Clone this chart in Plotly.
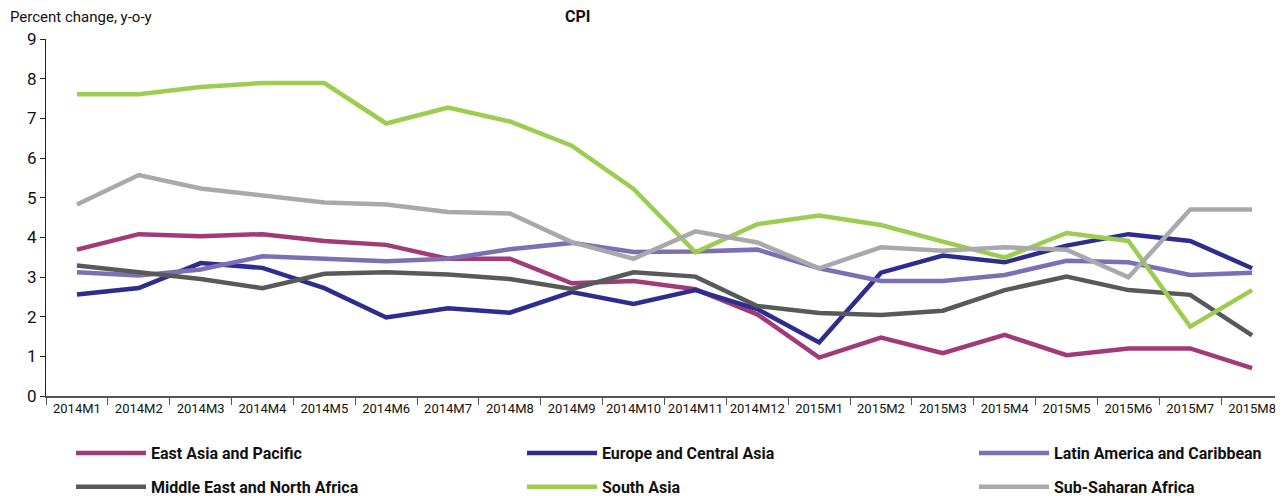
import plotly.graph_objects as go

months = ["2014M1","2014M2","2014M3","2014M4","2014M5","2014M6","2014M7","2014M8","2014M9","2014M10",
          "2014M11","2014M12","2015M1","2015M2","2015M3","2015M4","2015M5","2015M6","2015M7","2015M8"]

east_asia = [3.69,4.08,4.03,4.08,3.91,3.81,3.46,3.46,2.84,2.90,2.69,2.06,0.97,1.47,1.08,1.54,1.03,1.20,1.20,0.70]
europe_ca = [2.56,2.72,3.35,3.23,2.72,1.98,2.21,2.10,2.62,2.32,2.67,2.19,1.35,3.11,3.54,3.37,3.79,4.08,3.91,3.22]
latin_am = [3.12,3.04,3.19,3.52,3.46,3.40,3.46,3.70,3.86,3.63,3.64,3.69,3.22,2.90,2.90,3.05,3.41,3.37,3.05,3.11]
mena = [3.29,3.12,2.95,2.72,3.08,3.12,3.06,2.95,2.70,3.12,3.01,2.27,2.09,2.04,2.15,2.67,3.01,2.67,2.55,1.53]
south_asia = [7.61,7.61,7.79,7.89,7.89,6.87,7.27,6.92,6.31,5.22,3.62,4.33,4.55,4.31,3.89,3.49,4.11,3.91,1.75,2.67]
ssa = [4.83,5.57,5.23,5.05,4.88,4.83,4.64,4.60,3.88,3.46,4.15,3.87,3.22,3.75,3.66,3.75,3.69,2.99,4.70,4.70]

series_names = ["East Asia and Pacific","Europe and Central Asia","Latin America and Caribbean",
                "Middle East and North Africa","South Asia","Sub-Saharan Africa"]
series_values = [east_asia, europe_ca, latin_am, mena, south_asia, ssa]
colors = ["#A03A78","#2C2D8F","#7C6FB6","#58595B","#9DCD50","#A8A9AC"]
legend_ids = ["legend","legend2","legend3","legend","legend2","legend3"]

FONT = "Roboto, Liberation Sans, sans-serif"
W, H = 1275, 488

fig = go.Figure()
for i, (name, vals, col) in enumerate(zip(series_names, series_values, colors)):
    fig.add_trace(go.Scatter(x=months, y=vals, name=name, mode="lines",
                             line=dict(color=col, width=4.5),
                             legend=legend_ids[i], legendgroup=f"g{i}"))

leg_common = dict(orientation="v", xref="container", yref="container",
                  yanchor="top", xanchor="left", itemwidth=70, tracegroupgap=10,
                  bgcolor="rgba(0,0,0,0)",
                  font=dict(family=FONT, size=16, color="#111111", weight="bold"))
cont_y = (H - 428) / H

fig.update_layout(
    width=W, height=H,
    margin=dict(l=38, r=0, t=31, b=100, autoexpand=False),
    plot_bgcolor="white", paper_bgcolor="white",
    font=dict(family=FONT, size=16, color="#111111"),
    showlegend=True,
    legend=dict(x=63/W, y=cont_y, **leg_common),
    legend2=dict(x=514/W, y=cont_y, **leg_common),
    legend3=dict(x=966/W, y=cont_y, **leg_common),
    xaxis=dict(type="category", range=[-0.5, 19.5], showline=True, linecolor="#555555", linewidth=1.5,
               ticks="outside", tickson="boundaries", ticklen=7, tickcolor="#555555",
               showgrid=False, tickfont=dict(size=13), tickangle=0, zeroline=False),
    yaxis=dict(range=[0, 9], dtick=1, showline=True, linecolor="#222222", linewidth=1.2,
               ticks="outside", ticklen=5, tickcolor="#222222", showgrid=False, zeroline=False,
               tickfont=dict(size=17)),
    annotations=[
        dict(text="Percent change, y-o-y", xref="paper", yref="paper", x=-0.031, y=1.03,
             xanchor="left", yanchor="bottom", showarrow=False, font=dict(size=15)),
        dict(text="<b>CPI</b>", xref="paper", yref="paper", x=0.43, y=1.03,
             xanchor="center", yanchor="bottom", showarrow=False, font=dict(size=16)),
    ],
)

fig.write_html("out.html")
